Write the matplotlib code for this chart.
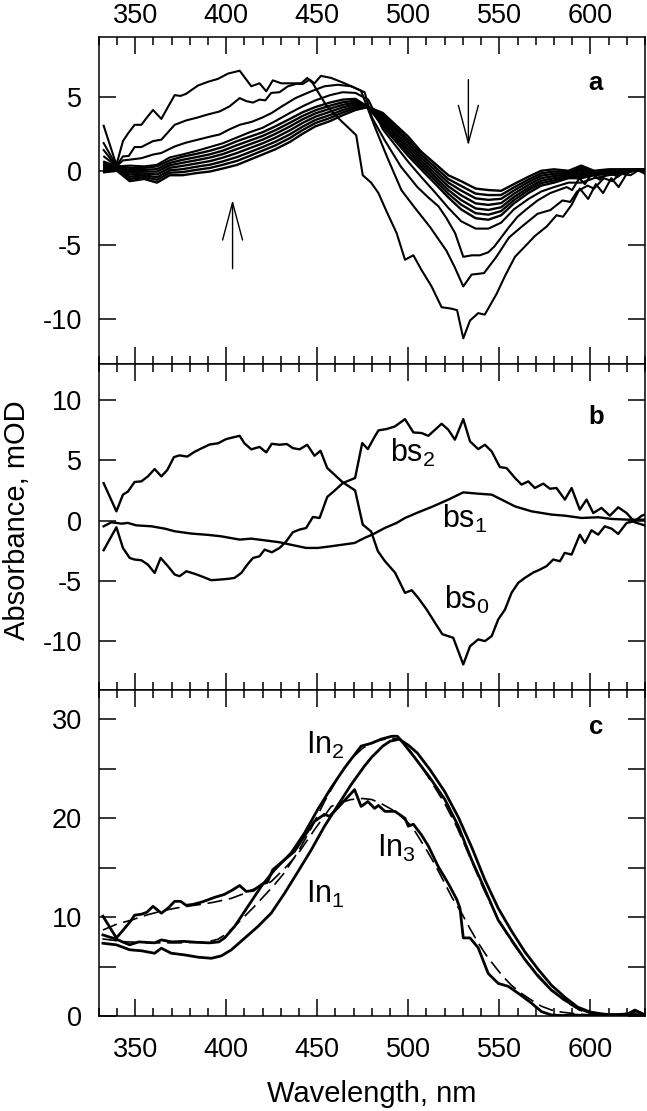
import matplotlib
matplotlib.use("Agg")
import matplotlib.pyplot as plt
from matplotlib.ticker import MultipleLocator

plt.rcParams['font.family'] = ['Liberation Sans', 'DejaVu Sans']
plt.rcParams['mathtext.default'] = 'regular'
plt.rcParams['axes.unicode_minus'] = False

# ---- panel a: transient difference spectra ----
wl_a1 = [332.7, 339.7, 343.3, 346, 349.7, 353.4, 356.5, 359.8, 364.4, 368, 371.7, 375, 378.1,
         384.5, 390, 395.5, 400.9, 407.4, 413.8, 418.3, 422, 425.6, 430.2, 437.5, 441.2, 444.5,
         447.6, 449, 455, 462, 471.4, 475, 479.6, 483.6, 488.1, 493.6, 498.2, 502.8, 507.3,
         512.8, 518.3, 523.8, 526.8, 530.2, 533.9, 538.4, 542, 548.5, 553.1, 558.6, 564.1,
         569.5, 576, 581.4, 585, 589.7, 594.2, 598.8, 603, 607, 611.5, 615.5, 620, 625, 630]
abs_a1 = [3.04, 0.4, 2.0, 2.5, 3.1, 3.1, 3.6, 4.1, 3.5, 4.3, 5.1, 5.05, 5.2,
          5.75, 6.0, 6.2, 6.55, 6.75, 5.7, 5.9, 5.36, 6.1, 5.9, 5.9, 5.9, 6.26,
          5.9, 5.6, 4.4, 3.5, 2.4, -0.3, -0.8, -1.5, -2.75, -4.2, -6.0, -5.7, -6.7,
          -7.8, -9.2, -9.3, -9.4, -11.3, -10.1, -9.6, -9.7, -8.3, -7.1, -5.8, -5.1,
          -4.4, -3.76, -3.0, -3.1, -2.3, -1.2, -1.9, -0.9, -1.5, -0.5, -1.1, -0.2, 0.1, -0.2]

wl_a2 = [332.7, 339.7, 343.3, 346.5, 349.7, 353.4, 359.8, 364.4, 371.7, 378.1, 384.5, 390,
         396.4, 401.9, 407.4, 411, 414.7, 418.3, 421.5, 424.7, 429.3, 433.9, 438.5, 442.1,
         445.8, 448.5, 452, 457.7, 465, 470.5, 474, 481.5, 488.3, 496.2, 503, 512, 521,
         525.5, 530.2, 534.8, 541.6, 548.4, 555.3, 562, 571, 578, 584.7, 589, 592.7, 598.4,
         602, 607.4, 612, 616.6, 622, 626, 630]
abs_a2 = [1.87, 0.34, 0.97, 1.0, 1.6, 1.6, 2.0, 2.1, 3.1, 3.4, 3.6, 3.8,
          4.0, 4.35, 4.9, 4.7, 4.6, 4.8, 4.75, 5.25, 5.3, 5.7, 5.86, 5.86,
          6.15, 5.9, 6.4, 6.26, 5.9, 5.6, 5.4, 3.0, 0.95, -1.3, -2.4, -3.8, -5.4,
          -6.5, -7.8, -7.0, -6.9, -5.8, -4.5, -3.8, -2.9, -2.65, -2.0, -2.1, -1.4, -1.0,
          -1.2, -0.5, -0.7, -0.2, -0.3, 0.0, 0.1]

wl_a3 = [332.7, 339.7, 343.3, 347, 353.4, 360, 364.4, 371.7, 378, 384.5, 391, 396.4, 401.9,
         407.4, 414, 420, 425, 430, 438, 446.7, 454, 461.3, 468.6, 476, 480, 487, 496, 505,
         511, 516.6, 521, 525.7, 530.2, 535, 539.3, 543.9, 547.3, 551, 555.3, 560, 564.3,
         571, 578, 587, 590, 593.9, 597, 600.7, 605, 610, 615, 620, 625, 630]
abs_a3 = [1.4, 0.3, 0.7, 0.75, 0.85, 1.1, 1.2, 1.64, 1.9, 2.1, 2.3, 2.45, 2.8,
          3.1, 3.3, 3.6, 3.9, 4.3, 4.9, 5.36, 5.7, 5.8, 5.7, 5.3, 3.6, 2.07, 0.27, -1.1,
          -1.8, -2.4, -3.2, -4.2, -5.8, -5.7, -5.7, -5.5, -5.1, -4.5, -3.8, -3.1, -2.65,
          -2.0, -1.5, -1.1, -1.3, -0.5, -0.9, -0.2, -0.6, -0.1, -0.4, 0.0, 0.1, 0.0]

wl_bundle = [333, 340, 347, 355, 362, 369, 376, 384, 391, 398, 406, 413, 420, 427, 435,
             442, 449, 457, 464, 471, 478, 486, 493, 500, 507, 515, 522, 529, 537, 544,
             551, 558, 566, 573, 580, 588, 595, 602, 610, 617, 624, 630]
abs_a4 = [0.95, 0.3, 0.35, 0.3, 0.4, 0.9, 1.1, 1.35, 1.6, 1.85, 2.25, 2.6, 2.9, 3.35, 3.9,
          4.35, 4.75, 5.1, 5.3, 5.25, 4.8, 2.8, 1.7, 0.6, -0.4, -1.5, -2.5, -3.4, -3.9, -3.9,
          -3.5, -2.6, -1.9, -1.4, -1.1, -0.8, -0.8, -0.5, -0.3, -0.2, 0.0, 0.0]
abs_b1 = [-0.1, 0.0, -0.7, -0.55, -0.8, -0.3, -0.3, -0.15, -0.05, 0.15, 0.4, 0.75, 1.1, 1.45, 1.95,
          2.5, 3.0, 3.35, 3.75, 4.1, 4.3, 3.9, 3.1, 2.3, 1.3, 0.45, -0.3, -0.7, -1.2, -1.3,
          -1.35, -0.9, -0.4, 0.0, 0.1, 0.0, 0.35, 0.0, 0.1, 0.1, 0.1, 0.1]
abs_b2 = [0.02, 0.05, -0.55, -0.42, -0.61, -0.13, -0.09, 0.07, 0.19, 0.4, 0.67, 1.01, 1.36, 1.71, 2.21,
          2.75, 3.22, 3.56, 3.93, 4.23, 4.3, 3.75, 2.91, 2.08, 1.1, 0.22, -0.56, -1.02, -1.54, -1.64,
          -1.63, -1.12, -0.59, -0.17, -0.05, -0.09, 0.21, -0.05, 0.05, 0.07, 0.08, 0.08]
abs_b3 = [0.13, 0.1, -0.4, -0.3, -0.44, 0.03, 0.11, 0.28, 0.41, 0.63, 0.93, 1.26, 1.6, 1.96, 2.46,
          2.98, 3.43, 3.76, 4.1, 4.35, 4.3, 3.6, 2.74, 1.87, 0.9, 0.0, -0.8, -1.33, -1.86, -1.96,
          -1.89, -1.33, -0.76, -0.33, -0.2, -0.17, 0.07, -0.1, 0.0, 0.03, 0.07, 0.07]
abs_b4 = [0.25, 0.15, -0.25, -0.18, -0.25, 0.2, 0.33, 0.5, 0.65, 0.88, 1.2, 1.53, 1.85, 2.23, 2.73,
          3.23, 3.65, 3.98, 4.28, 4.48, 4.3, 3.45, 2.55, 1.65, 0.7, -0.23, -1.05, -1.65, -2.2, -2.3,
          -2.18, -1.55, -0.95, -0.5, -0.35, -0.25, -0.08, -0.15, -0.05, 0.0, 0.05, 0.05]
abs_b5 = [0.37, 0.2, -0.1, -0.05, -0.06, 0.37, 0.54, 0.72, 0.89, 1.12, 1.47, 1.79, 2.1, 2.49, 2.99,
          3.47, 3.87, 4.19, 4.45, 4.6, 4.3, 3.3, 2.36, 1.43, 0.5, -0.45, -1.3, -1.97, -2.54, -2.64,
          -2.46, -1.77, -1.14, -0.67, -0.5, -0.34, -0.22, -0.2, -0.1, -0.03, 0.03, 0.03]
abs_b6 = [0.48, 0.25, 0.05, 0.07, 0.11, 0.53, 0.74, 0.93, 1.11, 1.35, 1.73, 2.04, 2.35, 2.74, 3.24,
          3.7, 4.08, 4.39, 4.62, 4.72, 4.3, 3.15, 2.19, 1.22, 0.3, -0.67, -1.55, -2.28, -2.86, -2.96,
          -2.72, -1.98, -1.31, -0.83, -0.65, -0.42, -0.36, -0.25, -0.15, -0.07, 0.02, 0.02]
abs_b7 = [0.6, 0.3, 0.2, 0.2, 0.3, 0.7, 0.95, 1.15, 1.35, 1.6, 2.0, 2.3, 2.6, 3.0, 3.5,
          3.95, 4.3, 4.6, 4.8, 4.85, 4.3, 3.0, 2.0, 1.0, 0.1, -0.9, -1.8, -2.6, -3.2, -3.3,
          -3.0, -2.2, -1.5, -1.0, -0.8, -0.5, -0.5, -0.3, -0.2, -0.1, 0.0, 0.0]

# ---- panel b: basis spectra ----
wl_bs0 = [332.7, 339.7, 343.3, 346, 349.7, 353.4, 357, 360.7, 364.4, 367.7, 371.3, 374.4,
          378.6, 382.7, 386.7, 390.9, 395.5, 400, 407.4, 410, 413.8, 418.3, 422, 425, 429.3,
          433.3, 436.6, 440.3, 444.5, 448.5, 451.8, 455.5, 459.5, 464, 470.8, 475, 479.6,
          483.3, 487.2, 492.7, 495.5, 498.2, 501.9, 505.5, 510.1, 514.7, 518.7, 524.7, 530.2,
          533.9, 538.4, 542.1, 545.8, 549.4, 553.1, 556.7, 560.4, 564, 568.6, 572.3, 575.9,
          579.6, 583.3, 585.9, 589.7, 594.2, 597, 600.6, 604.3, 607.9, 611.6, 615.3, 619.9,
          624.4, 628.1, 630]
abs_bs0 = [3.1, 0.77, 2.15, 2.4, 3.2, 3.25, 3.66, 4.27, 3.66, 4.2, 5.26, 5.4,
           5.3, 5.7, 6.0, 6.3, 6.4, 6.75, 7.02, 6.4, 5.9, 6.1, 5.65, 6.36, 6.28,
           6.34, 6.0, 5.9, 6.28, 5.37, 5.78, 4.35, 3.8, 3.17, 2.5, -0.33, -0.9,
           -2.53, -3.36, -4.3, -5.15, -5.98, -5.76, -6.4, -7.36, -8.46, -9.4, -9.7, -11.9,
           -10.4, -9.83, -9.97, -9.56, -8.18, -7.36, -5.98, -5.15, -4.74, -4.3, -4.05, -3.77,
           -3.22, -3.36, -2.67, -2.81, -1.16, -1.85, -0.8, -1.16, -0.47, -0.66, -1.1, -0.19,
           -0.05, 0.4, 0.5]

wl_bs1 = [332.7, 336.9, 339.7, 342.4, 346, 350.6, 358.9, 366.2, 371.7, 380.8, 390, 397.3,
          407.4, 413.8, 421.1, 429.3, 435.7, 443.9, 450.3, 457.7, 470.5, 476, 481, 487.2,
          493.6, 498.2, 505.5, 512.8, 522, 530.2, 538.4, 545.8, 553.1, 558.6, 567.7, 578.7,
          586, 595.2, 604.3, 611.6, 620.8, 630]
abs_bs1 = [-0.47, -0.14, -0.19, -0.25, -0.19, -0.39, -0.47, -0.66, -0.88, -1.07, -1.18, -1.3,
           -1.57, -1.49, -1.63, -1.79, -2.0, -2.26, -2.26, -2.12, -1.85, -1.43, -1.1, -0.6,
           -0.19, 0.22, 0.69, 1.13, 1.74, 2.34, 2.23, 2.15, 1.6, 1.18, 0.77, 0.5,
           0.41, 0.22, 0.28, 0.14, 0.08, 0.08]

wl_bs2 = [332.7, 339.7, 343.3, 347, 349.7, 353.4, 357, 360.7, 364, 368, 371.7, 374.4, 378.1,
          382.7, 386.3, 391.8, 396.4, 401, 404.6, 408.3, 411.6, 414.7, 418.3, 421.1, 425.1,
          429.3, 433, 436.6, 440.3, 443.9, 447.6, 451.3, 455.5, 459.5, 464.1, 470.8, 474.7,
          477.8, 481, 483.6, 488.1, 492.7, 498.2, 502.8, 507.3, 511, 514.7, 518.3, 522, 525.6,
          530.2, 533.9, 538.4, 542.1, 545.8, 550.3, 554, 558.6, 562.2, 565.9, 569.5, 574.1,
          577.8, 581.4, 586, 589.7, 594.2, 597.9, 601.6, 606.1, 610.7, 615.3, 619.9, 624.4, 630]
abs_bs2 = [-2.45, -0.55, -2.26, -3.09, -3.22, -3.28, -3.64, -4.33, -3.09, -3.77, -4.46, -4.6, -4.19,
           -4.4, -4.6, -4.93, -4.88, -4.82, -4.74, -4.33, -3.64, -3.09, -2.95, -2.4, -2.62,
           -2.26, -1.71, -0.96, -0.74, -0.61, 0.3, 0.22, 1.96, 2.48, 3.11, 3.53, 6.42,
           5.92, 6.8, 7.47, 7.58, 7.8, 8.4, 7.3, 7.25, 7.02, 7.52, 8.02, 7.52, 6.7,
           8.4, 6.56, 5.92, 6.28, 5.73, 4.43, 4.35, 3.53, 2.98, 3.25, 2.7, 3.06,
           2.64, 2.7, 1.74, 2.7, 0.91, 1.74, 0.63, 1.05, 0.41, 1.1, 0.63, -0.14, -0.4]

# ---- panel c: intermediate spectra (solid) and fits (dashed) ----
wl_in1 = [332.3, 339.7, 347, 353.4, 360.7, 364.4, 369.8, 377.2, 384.5, 391.8, 397.3, 402.8,
          410.1, 417.4, 424.7, 432, 439.4, 446.7, 454, 461.3, 468.6, 476, 480, 486, 490, 495,
          500, 505, 512, 520, 527.5, 535, 542, 549.4, 556.7, 564, 571.4, 578.7, 586, 593,
          600, 607, 614, 620, 625, 630]
abs_in1 = [7.36, 7.2, 6.7, 6.6, 6.35, 6.86, 6.35, 6.18, 5.95, 5.84, 6.08, 6.69,
           7.87, 9.05, 10.4, 12.4, 14.6, 16.8, 19.2, 21.3, 23.4, 25.3, 26.2, 27.3, 27.8, 28.0,
           27.4, 26.6, 24.9, 22.7, 20.1, 17.0, 13.8, 10.9, 8.6, 6.5, 4.7, 3.1, 1.9, 0.9,
           0.4, 0.2, 0.1, 0.2, 0.5, 0.1]

wl_in2 = [332.3, 339.7, 343, 347, 352, 356, 360.7, 364.4, 370, 377, 384, 391, 396, 399.1,
          404.6, 412, 419.2, 426.6, 435.7, 443, 450.3, 457.7, 465, 474.1, 479.9, 485, 491,
          494, 496, 503.7, 511.9, 520.1, 527.5, 534.8, 542.1, 549.4, 556.7, 564.1, 571.4,
          578.7, 586, 593.3, 600.6, 607, 614, 620, 624.4, 630]
abs_in2 = [8.2, 7.77, 7.5, 7.2, 7.5, 7.45, 7.4, 7.7, 7.5, 7.55, 7.45, 7.4, 7.5, 7.9,
           9.05, 11.1, 13.1, 14.8, 16.5, 18.5, 20.9, 23.1, 25.1, 27.3, 27.6, 28.0, 28.3,
           28.3, 27.9, 26.1, 24.1, 21.9, 19.2, 15.8, 12.8, 9.7, 7.7, 5.7, 4.0,
           2.6, 1.6, 0.8, 0.27, 0.1, 0.1, 0.15, 0.6, 0.1]

wl_in3 = [332.3, 339.7, 343, 347.5, 349.7, 353.5, 356.5, 359.8, 364.4, 368, 371.7, 375, 378,
          382, 387, 393.6, 399, 403, 407.4, 411, 415, 420.2, 422.5, 425.6, 432, 437.5, 443,
          448.5, 454, 456.7, 461, 466, 470.5, 474.1, 477.8, 481.5, 483.6, 487.2, 492.7,
          498.2, 500, 502.8, 507.3, 511, 516.5, 522, 526.6, 528.4, 530.2, 533.9, 538.4,
          543.9, 549.4, 554.9, 560.4, 567.7, 573.2, 578.7, 585, 592, 600, 610, 620, 630]
abs_in3 = [10.1, 7.9, 8.6, 9.6, 10.2, 10.3, 10.5, 11.1, 10.4, 10.9, 11.6, 11.6, 11.2,
           11.3, 11.55, 12.0, 12.3, 12.7, 13.2, 12.6, 12.7, 13.4, 13.5, 14.8, 15.8, 16.65, 18.2,
           19.7, 20.4, 20.2, 21.0, 22.0, 22.9, 21.2, 21.7, 21.0, 21.3, 20.7, 20.7,
           20.0, 19.2, 19.4, 18.3, 17.2, 15.1, 13.4, 11.8, 10.9, 7.9, 7.9, 6.9,
           4.3, 3.3, 3.0, 2.3, 1.3, 0.44, 0.1, 0.05, 0.1, 0.0, 0.1, 0.2, 0.1]

wl_fit2 = [332, 345, 360, 375, 390, 395.5, 400, 406.4, 415.6, 426.6, 432, 439.4, 446.7, 454,
           461, 468, 475, 482, 490, 495, 500, 507, 514, 520, 527, 534, 541, 548, 555, 562,
           570, 578, 586, 594, 602, 610, 620, 630]
abs_fit2 = [7.8, 7.5, 7.4, 7.4, 7.5, 7.77, 8.3, 9.4, 11.1, 13.3, 14.5, 16.6, 19.0, 21.7,
            24.0, 25.9, 27.1, 27.8, 28.1, 28.0, 27.1, 25.3, 23.3, 21.5, 19.0, 16.0, 13.0, 10.3, 8.0, 6.2,
            4.4, 2.8, 1.5, 0.6, 0.1, -0.2, -0.2, -0.1]

wl_fit3 = [332.3, 340, 347.9, 356, 366.2, 375, 384.5, 393, 402.8, 410, 417, 424.7, 432, 439.4,
           448.5, 457.7, 463, 468.6, 475, 479.9, 485, 490.9, 496, 501.9, 506, 511, 515, 520.1,
           524, 529.3, 534, 538.4, 543, 547.6, 552, 556.7, 562, 567.7, 573, 578.7, 584, 589.7,
           600, 615, 630]
abs_fit3 = [8.7, 9.3, 9.7, 10.2, 10.7, 11.0, 11.25, 11.5, 11.9, 12.4, 13.0, 13.6, 14.9, 16.4,
            18.85, 21.2, 21.6, 21.9, 22.0, 21.9, 21.5, 20.9, 20.2, 19.2, 18.0, 16.5, 15.2, 13.4,
            12.0, 10.4, 8.8, 7.4, 6.1, 5.0, 4.0, 3.1, 2.3, 1.6, 1.0, 0.6, 0.4, 0.27,
            0.1, 0.0, 0.0]


def style_panel(ax, ylim, ystep):
    ax.set_xlim(330, 630)
    ax.set_ylim(*ylim)
    ax.xaxis.set_major_locator(MultipleLocator(50))
    ax.xaxis.set_minor_locator(MultipleLocator(10))
    ax.yaxis.set_major_locator(MultipleLocator(ystep))
    ax.tick_params(which='both', direction='in', top=True, right=True,
                   width=1.1, labelsize=19.5, colors='k')
    ax.tick_params(which='major', length=12)
    ax.tick_params(which='minor', length=6)
    ax.tick_params(axis='y', pad=12)
    ax.tick_params(axis='x', labelbottom=False, labeltop=False)
    for sp in ax.spines.values():
        sp.set_linewidth(1.1)


fig = plt.figure(figsize=(6.47, 11.11), dpi=100)
gs = fig.add_gridspec(3, 1, left=0.1526, right=0.9969, top=0.9664, bottom=0.0855, hspace=0)
ax_a = fig.add_subplot(gs[0])
ax_b = fig.add_subplot(gs[1])
ax_c = fig.add_subplot(gs[2])

# panel a
for ys in [abs_b1, abs_b2, abs_b3, abs_b4, abs_b5, abs_b6, abs_b7]:
    ax_a.plot(wl_bundle, ys, color='k', lw=1.7)
ax_a.plot(wl_bundle, abs_a4, color='k', lw=1.5)
ax_a.plot(wl_a3, abs_a3, color='k', lw=1.5)
ax_a.plot(wl_a2, abs_a2, color='k', lw=1.5)
ax_a.plot(wl_a1, abs_a1, color='k', lw=1.5)
style_panel(ax_a, (-13, 9), 5)
ax_a.tick_params(axis='x', labeltop=True, pad=6)
arrow = dict(arrowstyle='->,head_length=2.7,head_width=0.72', lw=1.0, color='k',
             shrinkA=0, shrinkB=0, mutation_scale=10)
ax_a.annotate('', xy=(403.5, -1.96), xytext=(403.5, -6.6), arrowprops=arrow)
ax_a.annotate('', xy=(533, 1.7), xytext=(533, 6.15), arrowprops=arrow)
ax_a.text(0.909, 0.838, 'a', transform=ax_a.transAxes, fontsize=18.5,
          fontweight='bold', ha='center', va='baseline')

# panel b
ax_b.plot(wl_bs0, abs_bs0, color='k', lw=1.7)
ax_b.plot(wl_bs1, abs_bs1, color='k', lw=1.7)
ax_b.plot(wl_bs2, abs_bs2, color='k', lw=1.7)
style_panel(ax_b, (-14, 13), 5)
ax_b.text(490, 4.9, 'bs$_2$', fontsize=22, va='baseline')
ax_b.text(518.3, -0.6, 'bs$_1$', fontsize=22, va='baseline')
ax_b.text(519.8, -7.3, 'bs$_0$', fontsize=22, va='baseline')
ax_b.text(0.911, 0.814, 'b', transform=ax_b.transAxes, fontsize=18.5,
          fontweight='bold', ha='center', va='baseline')

# panel c
ax_c.plot(wl_fit3, abs_fit3, color='k', lw=1.2, dashes=(9, 4))
ax_c.plot(wl_fit2, abs_fit2, color='k', lw=1.2, dashes=(9, 4))
ax_c.plot(wl_in1, abs_in1, color='k', lw=2.0)
ax_c.plot(wl_in2, abs_in2, color='k', lw=2.0)
ax_c.plot(wl_in3, abs_in3, color='k', lw=2.0)
style_panel(ax_c, (0, 33), 10)
ax_c.yaxis.set_minor_locator(MultipleLocator(5))
ax_c.tick_params(axis='y', which='minor', length=12)
ax_c.tick_params(axis='x', labelbottom=True, pad=15)
ax_c.text(444, 26.5, 'In$_2$', fontsize=22, va='baseline')
ax_c.text(444, 11.4, 'In$_1$', fontsize=22, va='baseline')
ax_c.text(482.6, 16.1, 'In$_3$', fontsize=22, va='baseline')
ax_c.text(0.91, 0.864, 'c', transform=ax_c.transAxes, fontsize=18.5,
          fontweight='bold', ha='center', va='baseline')

fig.text(0.026, 0.532, 'Absorbance, mOD', rotation=90, fontsize=21,
         ha='center', va='center')
fig.text(0.5748, 0.0081, 'Wavelength, nm', fontsize=21, ha='center', va='baseline')

fig.savefig('out.png', dpi=100)
